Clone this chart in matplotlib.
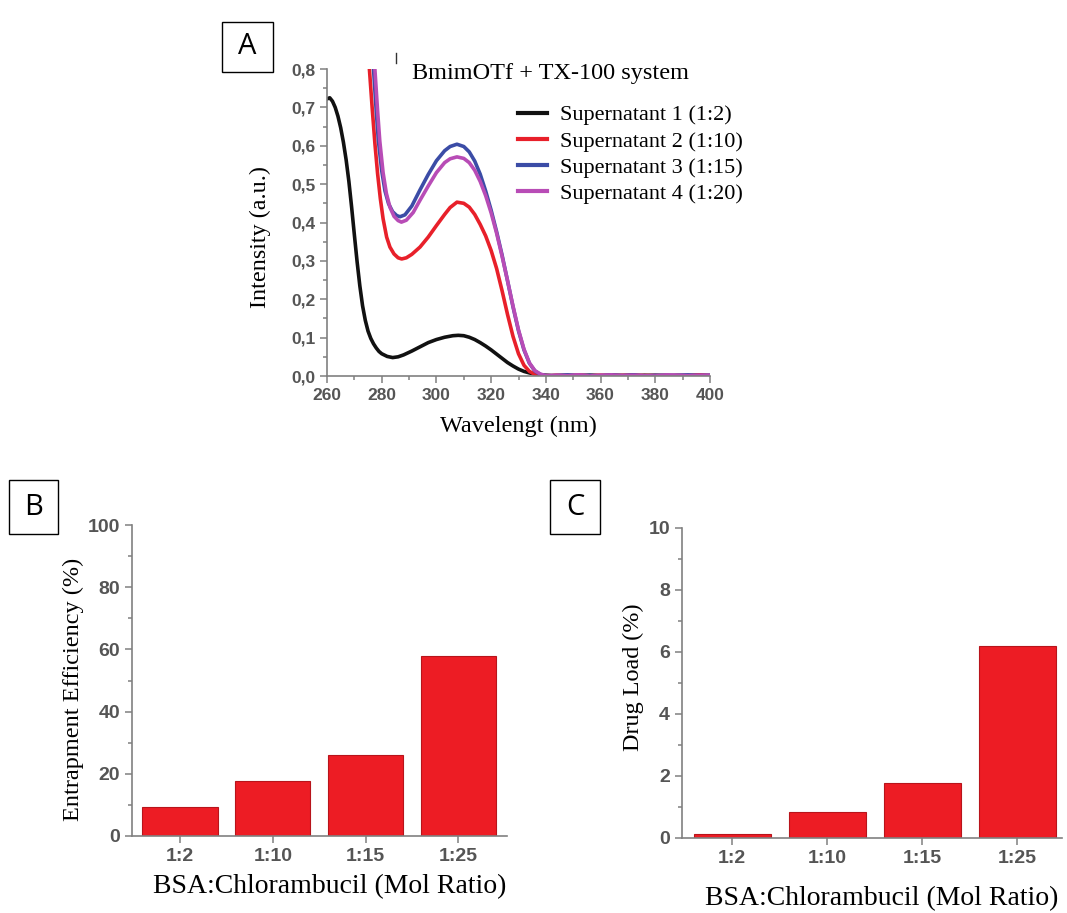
import matplotlib
matplotlib.use("Agg")
import matplotlib.pyplot as plt
from matplotlib.patches import Rectangle
from matplotlib.lines import Line2D
from matplotlib.ticker import MultipleLocator, FuncFormatter

W, H = 1067, 913

# UV-Vis spectra of the supernatants (wavelength in nm, intensity in a.u.)
TAIL_NM = [344, 348, 352, 356, 360, 364, 368, 372, 376, 380, 384, 388, 392, 396, 400]

s1_nm = [260, 261, 262, 263, 264, 265, 266, 267, 268, 269, 270, 271, 272, 273, 274,
         275, 276, 277, 278, 279, 280, 282, 284, 286, 288, 291, 294, 297, 300, 303,
         306, 308, 310, 312, 314, 316, 318, 320, 322, 324, 326, 328, 330, 332, 334,
         336, 338, 340, 342] + TAIL_NM
s1_val = [0.722, 0.725, 0.716, 0.70, 0.677, 0.647, 0.609, 0.563, 0.507, 0.44, 0.368, 0.298, 0.235, 0.183, 0.145,
          0.117, 0.098, 0.084, 0.073, 0.064, 0.058, 0.051, 0.048, 0.05, 0.055, 0.065, 0.076, 0.087, 0.095, 0.101,
          0.105, 0.106, 0.105, 0.101, 0.095, 0.087, 0.078, 0.068, 0.057, 0.046, 0.035, 0.026, 0.018, 0.012, 0.008,
          0.005, 0.003, 0.002, 0.001,
          0.001, 0.002, 0.0, 0.002, 0.001, 0.003, 0.001, 0.0, 0.002, 0.001, 0.002, 0.0, 0.001, 0.002, 0.001]

s2_nm = [275.5, 276.5, 277.5, 278.5, 279.5, 280.5, 281.8, 283, 284.5, 286, 287.3, 289, 291, 294,
         297, 300, 303, 305, 307.5, 310, 312, 314, 316, 318, 320, 322, 324, 326,
         328, 330, 332, 334, 336, 338, 340, 342] + TAIL_NM
s2_val = [0.80, 0.70, 0.607, 0.527, 0.462, 0.41, 0.362, 0.336, 0.318, 0.308, 0.305, 0.308, 0.317, 0.336,
          0.362, 0.392, 0.421, 0.439, 0.453, 0.45, 0.44, 0.421, 0.395, 0.365, 0.327, 0.28, 0.222, 0.16,
          0.103, 0.058, 0.028, 0.012, 0.004, 0.001, 0.001, 0.001,
          0.002, 0.0, 0.003, 0.001, 0.002, 0.0, 0.002, 0.003, 0.001, 0.002, 0.0, 0.002, 0.001, 0.003, 0.001]

s3_nm = [277, 278, 278.8, 280, 281.2, 282.5, 284, 285.5, 286.7, 288.5, 291, 294, 297, 300, 303,
         305, 307.5, 310, 312, 314, 316, 318, 320, 322, 324, 326, 328, 330, 332, 334,
         336, 338, 340, 342] + TAIL_NM
s3_val = [0.80, 0.69, 0.612, 0.535, 0.482, 0.449, 0.428, 0.418, 0.415, 0.42, 0.443, 0.485, 0.525, 0.561, 0.587,
          0.598, 0.604, 0.598, 0.584, 0.56, 0.526, 0.482, 0.432, 0.376, 0.315, 0.248, 0.18, 0.118, 0.068, 0.033,
          0.013, 0.004, 0.001, 0.001,
          0.001, 0.003, 0.001, 0.002, 0.0, 0.002, 0.001, 0.003, 0.0, 0.002, 0.001, 0.002, 0.003, 0.001, 0.002]

s4_nm = [277.5, 278.5, 279.3, 280.5, 281.7, 283, 284.5, 286, 287.2, 289, 291.5, 294, 297, 300, 303,
         305, 307.5, 310, 312, 314, 316, 318, 320, 322, 324, 326, 328, 330, 332, 334,
         336, 338, 340, 342] + TAIL_NM
s4_val = [0.80, 0.69, 0.612, 0.53, 0.476, 0.44, 0.416, 0.405, 0.401, 0.406, 0.426, 0.458, 0.495, 0.53, 0.556,
          0.566, 0.571, 0.567, 0.556, 0.536, 0.507, 0.47, 0.425, 0.372, 0.312, 0.248, 0.182, 0.12, 0.07, 0.034,
          0.014, 0.005, 0.001, 0.001,
          0.002, 0.001, 0.003, 0.0, 0.002, 0.003, 0.001, 0.002, 0.001, 0.0, 0.003, 0.002, 0.001, 0.002, 0.002]

spectra_labels = ["Supernatant 1 (1:2)", "Supernatant 2 (1:10)",
                  "Supernatant 3 (1:15)", "Supernatant 4 (1:20)"]
spectra_colors = ["#111111", "#e8202a", "#3b4ca6", "#b84cb6"]

# entrapment efficiency and drug load vs molar ratio
ratios = ["1:2", "1:10", "1:15", "1:25"]
entrapment = [9.2, 17.7, 25.9, 57.9]
drug_load = [0.11, 0.82, 1.75, 6.2]

BAR_RED = "#ed1c24"
AXIS_GREY = "#808080"
TICK_GREY = "#555555"
SERIF = ["Liberation Serif", "DejaVu Serif"]
SANS = ["Liberation Sans", "DejaVu Sans"]


def px_axes(left, top, right, bottom):
    """Axes from pixel edges (origin top-left)."""
    return fig.add_axes([left / W, 1 - bottom / H, (right - left) / W, (bottom - top) / H])


def panel_box(x0, y0, x1, y1, letter):
    fig.patches.append(Rectangle((x0 / W, 1 - y1 / H), (x1 - x0) / W, (y1 - y0) / H,
                                 transform=fig.transFigure, fill=False,
                                 edgecolor="black", linewidth=1.0))
    fig.text((x0 + x1) / 2 / W, 1 - (y0 + y1) / 2 / H, letter, ha="center", va="center",
             fontsize=21, family=["Open Sans", "DejaVu Sans"])


def style_axes(ax, tick_size):
    for side in ("top", "right"):
        ax.spines[side].set_visible(False)
    for side in ("left", "bottom"):
        ax.spines[side].set_color(AXIS_GREY)
        ax.spines[side].set_linewidth(1.2)
    ax.tick_params(which="both", direction="out", color=AXIS_GREY, width=1.1,
                   labelcolor=TICK_GREY, labelsize=tick_size)
    ax.tick_params(which="major", length=5)
    ax.tick_params(which="minor", length=3)
    for lab in ax.get_xticklabels() + ax.get_yticklabels():
        lab.set_family(SANS)
        lab.set_fontweight("bold")


fig = plt.figure(figsize=(W / 100, H / 100), dpi=100)

# ---- A: spectra ----
axA = px_axes(327, 69, 710, 376)
series = [(s1_nm, s1_val), (s2_nm, s2_val), (s3_nm, s3_val), (s4_nm, s4_val)]
for (nm, val), col in zip(series, spectra_colors):
    axA.plot(nm, val, color=col, lw=2.6, solid_capstyle="round", solid_joinstyle="round")
axA.set_xlim(260, 400)
axA.set_ylim(0, 0.8)
axA.xaxis.set_major_locator(MultipleLocator(20))
axA.xaxis.set_minor_locator(MultipleLocator(10))
axA.yaxis.set_major_locator(MultipleLocator(0.1))
axA.yaxis.set_minor_locator(MultipleLocator(0.05))
axA.yaxis.set_major_formatter(FuncFormatter(lambda v, p: f"{v:.1f}".replace(".", ",")))
style_axes(axA, 12.5)
axA.set_xlabel("Wavelengt (nm)", family=SERIF, fontsize=17.5)
axA.xaxis.set_label_coords(0.5, -(426 - 376) / 307)
axA.xaxis.label.set_va("center")
axA.set_ylabel("Intensity (a.u.)", family=SERIF, fontsize=17.4)
axA.yaxis.set_label_coords(-(327 - 260) / 383, (376 - 237) / 307)
axA.yaxis.label.set_va("center")

handles = [Line2D([], [], color=c, lw=3) for c in spectra_colors]
fig.legend(handles, spectra_labels, loc="upper left",
           bbox_to_anchor=(509 / W, 1 - 96 / H), frameon=False,
           prop={"family": SERIF, "size": 16}, handlelength=1.3,
           handletextpad=0.6, labelspacing=0.25, borderaxespad=0)
fig.text(412 / W, 1 - 73 / H, "BmimOTf + TX-100 system", family=SERIF,
         fontsize=17.5, ha="left", va="center")
fig.add_artist(Line2D([396 / W, 396 / W], [1 - 53 / H, 1 - 63 / H],
                      transform=fig.transFigure, color="#333333", lw=1))
panel_box(222, 22, 273, 72, "A")

# ---- B: entrapment efficiency ----
axB = px_axes(131.7, 525, 506.7, 836)
axB.bar(range(len(ratios)), entrapment, width=0.81, color=BAR_RED,
        edgecolor="#b8141b", linewidth=0.8)
axB.set_xlim(-0.52, 3.52)
axB.set_ylim(0, 100)
axB.set_xticks(range(len(ratios)), ratios)
axB.yaxis.set_major_locator(MultipleLocator(20))
axB.yaxis.set_minor_locator(MultipleLocator(10))
style_axes(axB, 14)
axB.set_ylabel("Entrapment Efficiency (%)", family=SERIF, fontsize=17.5)
axB.yaxis.set_label_coords(-(131.7 - 73) / 375, (836 - 689) / 311)
axB.yaxis.label.set_va("center")
axB.set_xlabel("BSA:Chlorambucil (Mol Ratio)", family=SERIF, fontsize=20)
axB.xaxis.set_label_coords((330 - 131.7) / 375, -(887 - 836) / 311)
axB.xaxis.label.set_va("center")
panel_box(9, 480, 58, 534, "B")

# ---- C: drug load ----
axC = px_axes(681.7, 527.7, 1062, 837.7)
axC.bar(range(len(ratios)), drug_load, width=0.81, color=BAR_RED,
        edgecolor="#b8141b", linewidth=0.8)
axC.set_xlim(-0.53, 3.47)
axC.set_ylim(0, 10)
axC.set_xticks(range(len(ratios)), ratios)
axC.yaxis.set_major_locator(MultipleLocator(2))
axC.yaxis.set_minor_locator(MultipleLocator(1))
style_axes(axC, 14)
axC.set_ylabel("Drug Load (%)", family=SERIF, fontsize=17.4)
axC.yaxis.set_label_coords(-(681.7 - 633) / 380.3, (837.7 - 677) / 310)
axC.yaxis.label.set_va("center")
axC.set_xlabel("BSA:Chlorambucil (Mol Ratio)", family=SERIF, fontsize=20)
axC.xaxis.set_label_coords((882 - 681.7) / 380.3, -(899 - 837.7) / 310)
axC.xaxis.label.set_va("center")
panel_box(550, 480, 600, 534, "C")

fig.savefig("out.png", dpi=100)
